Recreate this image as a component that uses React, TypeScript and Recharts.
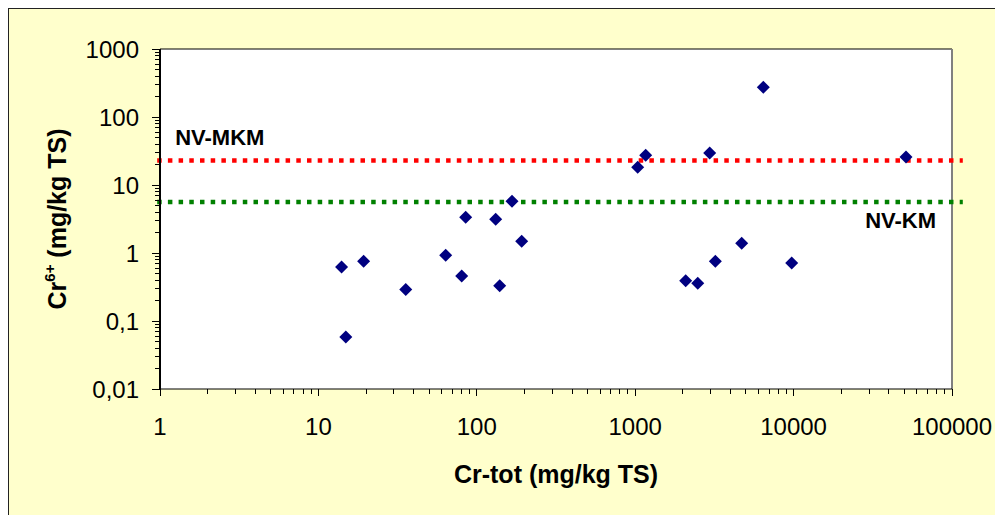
import React from 'react';
import { ScatterChart, Scatter, XAxis, YAxis, CartesianGrid, ReferenceLine, Label } from 'recharts';

const FONT = "Arial, 'Liberation Sans', sans-serif";

// Cr-tot (mg/kg TS)
const crTot = [14.0, 14.9, 19.3, 35.6, 63.6, 80.3, 85.1, 131.6, 139.5, 166.8, 192, 1037, 1165, 2084, 2482, 2953, 3206, 4701, 6441, 9727, 51257];
// Cr6+ (mg/kg TS)
const cr6 = [0.62, 0.058, 0.755, 0.29, 0.925, 0.46, 3.35, 3.13, 0.33, 5.76, 1.49, 18.2, 27.3, 0.39, 0.36, 29.6, 0.755, 1.39, 273, 0.71, 25.8];

const xMajorTicks = [1, 10, 100, 1000, 10000, 100000];
const xTickLabels = ['1', '10', '100', '1000', '10000', '100000'];
const yMajorTicks = [0.01, 0.1, 1, 10, 100, 1000];
const yTickLabels = ['0,01', '0,1', '1', '10', '100', '1000'];
const minorMultipliers = [2, 3, 4, 5, 6, 7, 8, 9];

const NV_MKM = 23;
const NV_KM = 5.6;
const lineStart = 0.96;
const lineEnd = 117000;

const withMinor = (majors: number[]) => {
  const out: number[] = [];
  majors.forEach((m, i) => {
    out.push(m);
    if (i < majors.length - 1) minorMultipliers.forEach((k) => out.push(m * k));
  });
  return out;
};

const xTicks = withMinor(xMajorTicks);
const yTicks = withMinor(yMajorTicks);

const data = crTot.map((x, i) => ({ x, y: cr6[i] }));

const findMajor = (arr: number[], v: number) => arr.findIndex((t) => Math.abs(t - v) / t < 1e-6);

const XTick = (props: any) => {
  const { x, y, payload } = props;
  const idx = findMajor(xMajorTicks, payload.value);
  const major = idx >= 0;
  return (
    <g>
      <line x1={x} x2={x} y1={y} y2={y + (major ? 7 : 5)} stroke="#000" strokeWidth={1} shapeRendering="crispEdges" />
      {major && (
        <text x={x} y={y + 46} textAnchor="middle" fontSize={24} fill="#000" fontFamily={FONT}>
          {xTickLabels[idx]}
        </text>
      )}
    </g>
  );
};

const YTick = (props: any) => {
  const { x, y, payload } = props;
  const idx = findMajor(yMajorTicks, payload.value);
  const major = idx >= 0;
  return (
    <g>
      <line x1={x - (major ? 8 : 5)} x2={x} y1={y} y2={y} stroke="#000" strokeWidth={1} shapeRendering="crispEdges" />
      {major && (
        <text x={x - 21} y={y + 8.5} textAnchor="end" fontSize={24} fill="#000" fontFamily={FONT}>
          {yTickLabels[idx]}
        </text>
      )}
    </g>
  );
};

const Diamond = (props: any) => {
  const { cx, cy } = props;
  const r = 6.5;
  return (
    <polygon
      points={`${cx},${cy - r} ${cx + r},${cy} ${cx},${cy + r} ${cx - r},${cy}`}
      fill="#000080"
      stroke="none"
    />
  );
};

export default function App() {
  return (
    <div
      style={{
        width: 1000,
        height: 510,
        marginLeft: -1,
        marginTop: -1,
        background: '#FFFFCC',
        borderLeft: '2px solid #222',
        borderTop: '2px solid #222',
        position: 'relative',
        overflow: 'hidden',
      }}
    >
      <style>{'body{overflow:hidden}'}</style>
      <ScatterChart width={990} height={500} margin={{ top: 40, right: 47, bottom: 0, left: 0 }}>
        <CartesianGrid fill="#FFFFFF" horizontal={false} vertical={false} stroke="none" />
        <XAxis
          dataKey="x"
          type="number"
          scale="log"
          domain={[1, 100000]}
          allowDataOverflow
          ticks={xTicks}
          interval={0}
          height={120}
          tickSize={0}
          tickMargin={0}
          tickLine={false}
          tick={<XTick />}
          axisLine={{ stroke: '#000', strokeWidth: 1 }}
        >
          <Label
            content={(p: any) => {
              const vb = p.viewBox || {};
              return (
                <text
                  x={vb.x + vb.width / 2}
                  y={vb.y + 94}
                  textAnchor="middle"
                  fontSize={25}
                  fontWeight="bold"
                  fill="#000"
                  fontFamily={FONT}
                >
                  Cr-tot (mg/kg TS)
                </text>
              );
            }}
          />
        </XAxis>
        <YAxis
          dataKey="y"
          type="number"
          scale="log"
          domain={[0.01, 1000]}
          allowDataOverflow
          ticks={yTicks}
          interval={0}
          width={151}
          tickSize={0}
          tickMargin={0}
          tickLine={false}
          tick={<YTick />}
          axisLine={{ stroke: '#000', strokeWidth: 2 }}
        >
          <Label
            content={(p: any) => {
              const vb = p.viewBox || {};
              const cx = vb.x + 57;
              const cy = vb.y + vb.height / 2;
              return (
                <text
                  x={cx}
                  y={cy}
                  transform={`rotate(-90, ${cx}, ${cy})`}
                  textAnchor="middle"
                  fontSize={25}
                  fontWeight="bold"
                  fill="#000"
                  fontFamily={FONT}
                >
                  Cr
                  <tspan dy={-11} fontSize={15}>6+</tspan>
                  <tspan dy={11}>{' (mg/kg TS)'}</tspan>
                </text>
              );
            }}
          />
        </YAxis>
        <ReferenceLine y={1000} stroke="#000" strokeWidth={1} />
        <ReferenceLine x={100000} stroke="#808080" strokeWidth={2} />
        <ReferenceLine
          segment={[{ x: lineStart, y: NV_MKM }, { x: lineEnd, y: NV_MKM }]}
          ifOverflow="visible"
          stroke="#FF0000"
          strokeWidth={4.5}
          strokeDasharray="4.5 6.2"
          label={(p: any) => {
            const vb = p.viewBox || {};
            return (
              <text x={vb.x + 18} y={vb.y - 15} fontSize={22} fontWeight="bold" fill="#000" fontFamily={FONT}>
                NV-MKM
              </text>
            );
          }}
        />
        <ReferenceLine
          segment={[{ x: lineStart, y: NV_KM }, { x: lineEnd, y: NV_KM }]}
          ifOverflow="visible"
          stroke="#008000"
          strokeWidth={4.5}
          strokeDasharray="4.5 6.2"
          label={(p: any) => {
            const vb = p.viewBox || {};
            return (
              <text x={vb.x + 708} y={vb.y + 26} fontSize={22} fontWeight="bold" fill="#000" fontFamily={FONT}>
                NV-KM
              </text>
            );
          }}
        />
        <Scatter data={data} shape={<Diamond />} isAnimationActive={false} />
      </ScatterChart>
    </div>
  );
}
